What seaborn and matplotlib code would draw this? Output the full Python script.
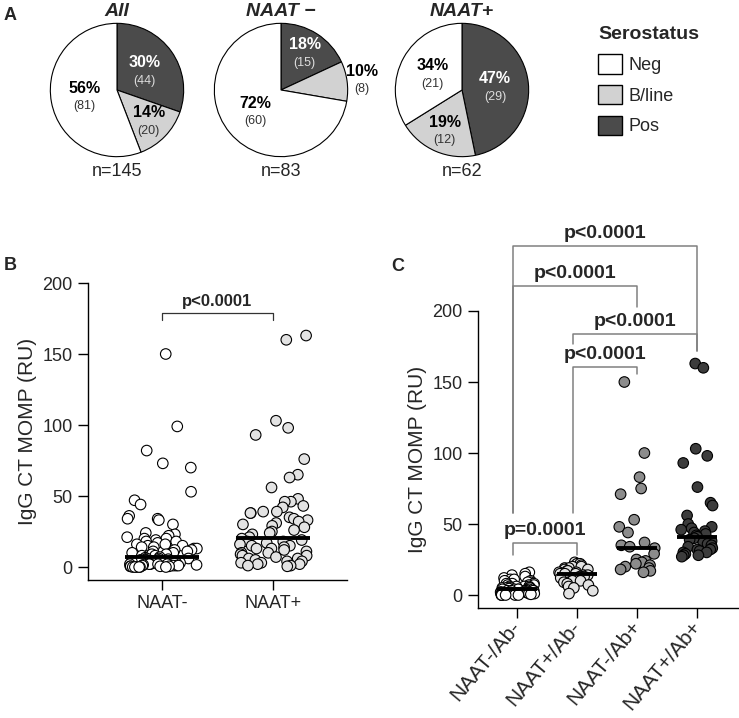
import matplotlib
matplotlib.use('Agg')
import numpy as np
import pandas as pd
import seaborn as sns
import matplotlib.pyplot as plt
from matplotlib.patches import Patch

sns.set_theme(style='ticks')
plt.rcParams['font.family'] = ['Liberation Sans', 'DejaVu Sans']
np.random.seed(3)

# ---- panel A: serostatus counts per group
pie_titles = ['All', 'NAAT \u2212', 'NAAT+']
status = ['Pos', 'B/line', 'Neg']
pie_counts = [[44, 20, 81], [15, 8, 60], [29, 12, 21]]
status_colors = {'Neg': 'white', 'B/line': '#d2d2d2', 'Pos': '#4b4b4b'}

# ---- panel B: IgG CT MOMP (RU) by NAAT result
naat_neg = [150, 99, 82, 73, 70, 53, 47, 44, 36, 34, 34, 33, 30,
            24, 23, 22, 21, 20, 20, 19, 18, 18, 17, 16, 16, 15, 15, 14, 14,
            13, 13, 12, 12, 11, 11, 10, 10, 9, 9, 8, 8, 7,
            6.5, 6, 6, 6, 5.5, 5, 5, 5, 5, 4.5, 4, 4, 4, 4, 3.5, 3, 3, 3, 3,
            2.5, 2, 2, 2, 2, 2, 1.5, 1.5, 1, 1, 1, 1, 0.5, 0.5, 0.5, 0.5,
            0, 0, 0, 0, 0, 0]
naat_pos = [163, 160, 103, 98, 93, 76, 65, 63, 56, 48, 46, 46, 43, 42,
            39, 39, 38, 38, 35, 34, 33, 32, 31, 30, 29, 28, 26, 25, 24, 23, 21,
            20, 19, 18, 18, 17, 16, 15, 15, 14, 13, 13, 12, 11, 10, 10,
            9, 8, 8, 7, 6, 6, 5, 4, 4, 3, 3, 2, 2, 1, 1, 0.5]

# ---- panel C: by NAAT and antibody status
c_groups = ['NAAT-/Ab-', 'NAAT+/Ab-', 'NAAT-/Ab+', 'NAAT+/Ab+']
nn = [16, 15, 14, 13, 12, 11, 11, 10, 10, 9, 9, 8, 8, 8, 7, 7, 7,
      6, 6, 6, 6, 5, 5, 5, 5, 5, 5, 4.5, 4, 4, 4, 4, 4, 3.5, 3, 3, 3, 3, 3,
      2.5, 2, 2, 2, 2, 2, 1.5, 1.5, 1, 1, 1, 1, 0.5, 0.5, 0.5, 0, 0, 0, 0, 0, 0]
pn = [23, 22, 22, 21, 20, 20, 19, 19, 18, 18, 17, 17, 16, 16, 15, 15, 15,
      14, 14, 13, 13, 12, 12, 11, 10, 10, 9, 8, 7, 6, 5, 3, 1]
np_ab = [150, 100, 83, 75, 71, 53, 48, 44, 37, 35, 34, 33,
         29, 25, 24, 23, 22, 21, 20, 19, 18, 17, 16]
pp_ab = [163, 160, 103, 98, 93, 76, 65, 63, 56, 50, 48, 47, 46, 45, 44, 43, 42,
         41, 40, 39, 38, 37, 36, 35, 34, 33, 32, 32, 31, 30, 30, 29, 28, 28, 27]
c_colors = ['white', '#e3e3e3', '#8c8c8c', '#3c3c3c']

# comparisons: (group a, group b, bar height, leg a end, leg b end, label)
b_comp = [(0, 1, 179, 174, 174, 'p<0.0001')]
c_comp = [(-0.07, 3, 246, 58, 172, 'p<0.0001'),
          (-0.07, 2, 217.6, 58, 203, 'p<0.0001'),
          (0.93, 3, 184, 177, 172, 'p<0.0001'),
          (0.93, 2, 160.6, 58, 155.6, 'p<0.0001'),
          (-0.07, 1, 36.6, 28, 28, 'p=0.0001')]

W, H = 739, 718
fig = plt.figure(figsize=(W / 100, H / 100), dpi=100)


def px_axes(x0, y0, x1, y1):
    return fig.add_axes([x0 / W, 1 - y1 / H, (x1 - x0) / W, (y1 - y0) / H])


# ---------------- A: pies
centers = [117, 281, 462]
for cx, title, counts in zip(centers, pie_titles, pie_counts):
    ax = px_axes(cx - 70, 20, cx + 70, 160)
    wedges, _ = ax.pie(counts, colors=[status_colors[s] for s in status],
                       startangle=90, counterclock=False, radius=1,
                       wedgeprops={'edgecolor': 'black', 'linewidth': 0.8})
    n = sum(counts)
    for w, c, s in zip(wedges, counts, status):
        pct = round(100 * c / n)
        ang = np.deg2rad((w.theta1 + w.theta2) / 2)
        if pct < 12:
            r = 1.22
        elif pct < 30:
            r = 0.66
        else:
            r = 0.5
        x, y = r * np.cos(ang), r * np.sin(ang)
        fc = 'white' if s == 'Pos' else 'black'
        cc = '#dddddd' if s == 'Pos' else '#333333'
        ax.text(x, y + 0.12, f'{pct}%', ha='center', va='center',
                fontsize=11.5, fontweight='bold', color=fc)
        ax.text(x, y - 0.15, f'({c})', ha='center', va='center',
                fontsize=9, color=cc)
    ax.text(0, -1.23, f'n={n}', ha='center', va='center', fontsize=13)
    ax.set_title(title, fontsize=14, fontweight='bold', style='italic', pad=0)
    ax.set_xlim(-1.05, 1.05)
    ax.set_ylim(-1.05, 1.05)
    ax.set_aspect('equal')
    ax.axis('off')

handles = [Patch(facecolor=status_colors[s], edgecolor='black', linewidth=1)
           for s in ['Neg', 'B/line', 'Pos']]
leg = fig.legend(handles, ['Neg', 'B/line', 'Pos'], title='Serostatus',
                 loc='upper left', bbox_to_anchor=(582 / W, 1 - 10 / H),
                 frameon=False, fontsize=13, handlelength=1.3,
                 handleheight=1.3, labelspacing=0.6, handletextpad=0.4,
                 alignment='left',
                 title_fontproperties={'weight': 'bold', 'size': 14})


def style_axis(ax):
    ax.set_ylim(-9.15, 200)
    ax.set_yticks([0, 50, 100, 150, 200])
    ax.tick_params(axis='both', length=7, width=1, pad=4, labelsize=13,
                   color='black')
    for sp in ['left', 'bottom']:
        ax.spines[sp].set_linewidth(1)
        ax.spines[sp].set_color('black')
    sns.despine(ax=ax)
    ax.set_ylabel('IgG CT MOMP (RU)', fontsize=15)
    ax.set_xlabel('')


def brackets(ax, comps, color, fs, lw):
    for a, b, yb, ya_end, yb_end, lab in comps:
        ax.plot([a, a, b, b], [ya_end, yb, yb, yb_end], color=color, lw=lw,
                clip_on=False, zorder=6)
        ax.text((a + b) / 2, yb + 2.5, lab, ha='center', va='bottom',
                fontsize=fs, fontweight='bold', clip_on=False)


# ---------------- B
dfb = pd.DataFrame({'group': ['NAAT-'] * len(naat_neg) + ['NAAT+'] * len(naat_pos),
                    'value': naat_neg + naat_pos})
axb = px_axes(88, 283, 347, 580)
sns.stripplot(data=dfb, x='group', y='value', hue='group',
              palette=['white', '#e3e3e3'], jitter=0.33, size=7.6,
              linewidth=0.8, edgecolor='black', legend=False, ax=axb, zorder=3)
sns.boxplot(data=dfb, x='group', y='value', ax=axb, width=0.66,
            showbox=False, showcaps=False, showfliers=False, whis=0,
            whiskerprops={'visible': False},
            medianprops={'color': 'black', 'linewidth': 2.8, 'zorder': 5})
axb.set_xlim(-0.667, 1.667)
style_axis(axb)
brackets(axb, b_comp, '#333333', 12, 0.9)

# ---------------- C
dfc = pd.DataFrame({'group': [c_groups[0]] * len(nn) + [c_groups[1]] * len(pn)
                    + [c_groups[2]] * len(np_ab) + [c_groups[3]] * len(pp_ab),
                    'value': nn + pn + np_ab + pp_ab})
axc = px_axes(478, 311, 738, 608)
sns.stripplot(data=dfc, x='group', y='value', hue='group', order=c_groups,
              hue_order=c_groups, palette=c_colors, jitter=0.3, size=7.6,
              linewidth=0.8, edgecolor='black', legend=False, ax=axc, zorder=3)
sns.boxplot(data=dfc, x='group', y='value', order=c_groups, ax=axc, width=0.66,
            showbox=False, showcaps=False, showfliers=False, whis=0,
            whiskerprops={'visible': False},
            medianprops={'color': 'black', 'linewidth': 2.8, 'zorder': 5})
axc.set_xlim(-0.65, 3.68)
style_axis(axc)
plt.setp(axc.get_xticklabels(), rotation=50, ha='right', va='center',
         rotation_mode='anchor', fontsize=15)
brackets(axc, c_comp, '#808080', 14, 1.1)

# panel letters
for lab, x, y in [('A', 10, 15), ('B', 10, 265), ('C', 398, 267)]:
    fig.text(x / W, 1 - y / H, lab, fontsize=13, fontweight='bold',
             ha='center', va='center')

fig.savefig('out.png', dpi=100)
